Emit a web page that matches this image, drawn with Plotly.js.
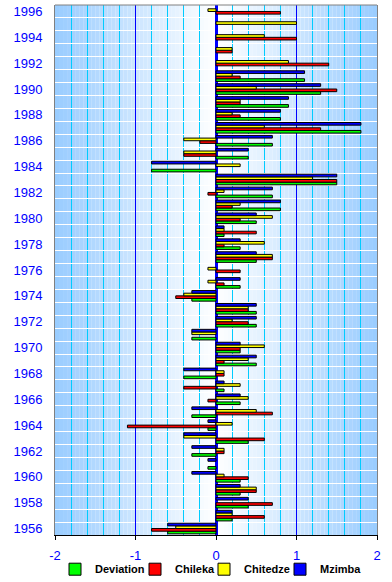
<!DOCTYPE html>
<html>
<head>
<meta charset="utf-8">
<script src="https://cdn.plot.ly/plotly-3.0.1.min.js"></script>
<style>
  html, body { margin: 0; padding: 0; background: #ffffff; }
  #chart { width: 392px; height: 582px; }
</style>
</head>
<body>
<div id="chart"></div>
<script>
// ---- data ----
const years = [1956,1957,1958,1959,1960,1961,1962,1963,1964,1965,
               1966,1967,1968,1969,1970,1971,1972,1973,1974,1975,
               1976,1977,1978,1979,1980,1981,1982,1983,1984,1985,
               1986,1987,1988,1989,1990,1991,1992,1993,1994,1995,1996];

const deviation = [-0.6, 0.2, 0.4, 0.3, 0.3,-0.1,-0.3, 0.4,-0.1,-0.3,
                    0.3, 0.1,-0.4, 0.5, 0.3,-0.3, 0.5, 0.5,-0.3, 0.3,
                    null,0.5, 0.3, 0.1, 0.5, 0.8, 0.7, 1.5,-0.8, 0.4,
                    0.7, 1.8, 0.8, 0.9, 1.3, 1.1, null,null,null,null,null];

const chileka   = [-0.8, 0.6, 0.7, 0.5, 0.4, null,0.1, 0.6,-1.1, 0.7,
                   -0.1,-0.4, 0.1, 0.1, 0.3, null,0.4, 0.4,-0.5, 0.1,
                    0.3, 0.7, 0.1, 0.5, 0.3, 0.2,-0.1, 1.5, null,-0.4,
                   -0.2, 1.3, 0.3, 0.3, 1.5, 0.3, 1.4, 0.2, 1.0, null,0.8];

const chitedze  = [-0.5, 0.2, null,0.5, 0.1, null,0.1,-0.4, 0.2, 0.5,
                    0.4, 0.3, 0.1, 0.4, 0.6,-0.3, 0.2, 0.4,-0.4,-0.1,
                   -0.1, 0.7, 0.6, 0.1, 0.7, 0.3, 0.1, 1.2, 0.3,-0.4,
                   -0.4, 0.6, 0.2, 0.3, 0.5, 0.2, 0.9, 0.2, 0.6, 1.0,-0.1];

const mzimba    = [-0.6, 0.2, 0.4, 0.3,-0.3,-0.1,-0.3,-0.4,-0.1,-0.3,
                    0.3, 0.1,-0.4, 0.5, 0.3,-0.3, 0.5, 0.5,-0.3, 0.3,
                    null,0.5, 0.3, 0.1, 0.5, 0.8, 0.7, 1.5,-0.8, 0.4,
                    0.7, 1.8, 0.8, 0.9, 1.3, 1.1, null,null,null,null,null];

const seriesNames = ['Deviation', 'Chileka', 'Chitedze', 'Mzimba'];
const xTickVals = [-2, -1, 0, 1, 2];
const xTickText = ['-2', '-1', '0', '1', '2'];

// ---- styling ----
const colors = ['#00FF00', '#FF0000', '#FFFF00', '#0000FF'];
const legendWidths = [35, 24, 31, 41];
const seriesValues = [deviation, chileka, chitedze, mzimba];

const traces = seriesNames.map((name, i) => ({
  type: 'bar',
  orientation: 'h',
  name: name,
  y: years,
  x: seriesValues[i],
  marker: { color: colors[i], line: { color: '#000000', width: 1 } },
  legendwidth: legendWidths[i],
  hoverinfo: 'skip'
}));

// background gradient (white at centre to light blue at both edges)
const shapes = [];
const nBands = 40;
const edge = [153, 204, 255];
for (let side = -1; side <= 1; side += 2) {
  for (let k = 0; k < nBands; k++) {
    const a = k * 2 / nBands, b = (k + 1) * 2 / nBands;
    const t = (a + b) / 4; // 0..1
    const c = edge.map(e => Math.round(255 + (e - 255) * t));
    shapes.push({
      type: 'rect', layer: 'below', xref: 'x', yref: 'paper',
      x0: side * a, x1: side * b, y0: 0, y1: 1,
      fillcolor: 'rgb(' + c.join(',') + ')', line: { width: 0 }
    });
  }
}
// top border
shapes.push({ type: 'line', xref: 'paper', yref: 'paper', x0: 0, x1: 1, y0: 1, y1: 1,
              line: { color: '#808080', width: 1 }, layer: 'above' });

const tickFont = { family: 'Liberation Sans, Arial, sans-serif', size: 13, color: '#0000FF' };

const layout = {
  width: 392, height: 582,
  margin: { l: 55, r: 15, t: 5, b: 47, pad: 0 },
  paper_bgcolor: '#ffffff',
  plot_bgcolor: '#ffffff',
  barmode: 'group',
  bargap: 0.18,
  bargroupgap: 0,
  showlegend: true,
  legend: {
    orientation: 'h',
    x: 0.0, xanchor: 'left',
    yref: 'container', y: 0.022, yanchor: 'middle',
    font: { family: 'Liberation Sans, Arial, sans-serif', size: 11, color: '#000000', weight: 'bold' },
    bgcolor: 'rgba(0,0,0,0)',
    itemwidth: 30,
    traceorder: 'normal'
  },
  xaxis: {
    range: [-2, 2],
    tickmode: 'array', tickvals: xTickVals, ticktext: xTickText,
    tickfont: tickFont,
    ticks: 'outside', ticklen: 4, tickcolor: '#000000', tickwidth: 1,
    ticklabelstandoff: 4,
    showline: true, linecolor: '#000000', linewidth: 1,
    showgrid: true, gridcolor: '#0000FF', gridwidth: 1,
    zeroline: true, zerolinecolor: '#0000FF', zerolinewidth: 3,
    minor: { dtick: 0.2, showgrid: true, gridcolor: '#00CCFF', gridwidth: 1, ticks: '' },
    fixedrange: true
  },
  yaxis: {
    range: [1955.5, 1996.5],
    tickmode: 'linear', tick0: 1956, dtick: 2,
    tickfont: tickFont,
    ticks: '', ticklabelstandoff: 9,
    showline: true, linecolor: '#808080', linewidth: 1, mirror: true,
    showgrid: false, zeroline: false,
    minor: { tick0: 1955.5, dtick: 1, showgrid: true, gridcolor: '#FFFFFF', gridwidth: 1, ticks: '' },
    fixedrange: true
  },
  yaxis2: {
    overlaying: 'y', anchor: 'free', position: 0.5, side: 'left',
    range: [1955.5, 1996.5],
    tickmode: 'linear', tick0: 1955.5, dtick: 1,
    ticks: 'outside', ticklen: 5, tickwidth: 2, tickcolor: '#0000FF',
    showticklabels: false, showgrid: false, zeroline: false, showline: false,
    fixedrange: true
  },
  shapes: shapes
};

Plotly.newPlot('chart', traces, layout, { displayModeBar: false, staticPlot: true });
</script>
</body>
</html>
